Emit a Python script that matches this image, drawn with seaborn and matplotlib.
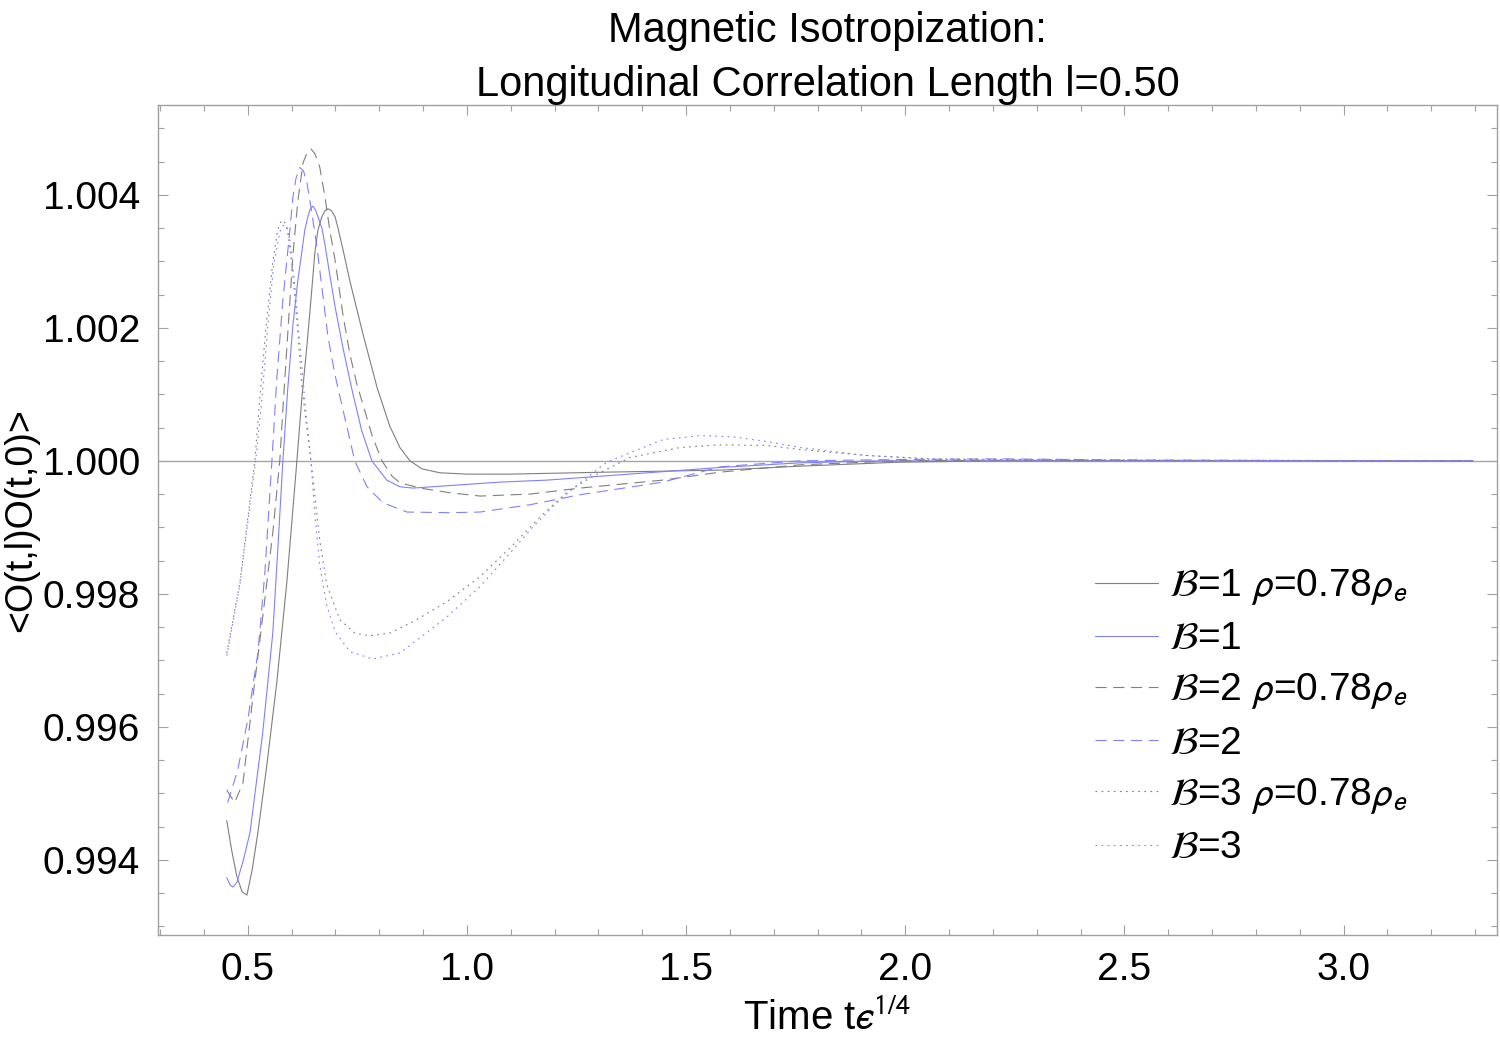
#!/usr/bin/env python3
"""
Magnetic isotropization: longitudinal correlation <O(t,l)O(t,0)> vs time, l=0.50
"""
import matplotlib
matplotlib.use("Agg")
import matplotlib.pyplot as plt
from matplotlib.ticker import MultipleLocator
import seaborn as sns

sns.set_style("ticks")
plt.rcParams['font.family'] = ['Liberation Sans', 'DejaVu Sans']
plt.rcParams['mathtext.fontset'] = 'stixsans'
plt.rcParams['text.color'] = 'black'
plt.rcParams['axes.labelcolor'] = 'black'

# B=1, rho=0.78 rho_e  (gray solid)
x_b1_rho = [0.452, 0.463, 0.475, 0.487, 0.498, 0.510, 0.523, 0.543, 0.566, 0.589,
            0.612, 0.623, 0.635, 0.644, 0.653, 0.660, 0.669, 0.676, 0.683, 0.691,
            0.699, 0.705, 0.717, 0.733, 0.763, 0.795, 0.824, 0.847, 0.870, 0.897,
            0.938, 1.0, 1.098, 1.320, 1.578, 1.760, 1.989, 2.217, 3.295]
y_b1_rho = [0.99459, 0.99415, 0.99375, 0.99352, 0.99347, 0.99385, 0.99441, 0.99540, 0.99666, 0.99817,
            1.0, 1.00092, 1.00174, 1.00242, 1.00313, 1.00347, 1.00367, 1.00376, 1.00379, 1.00376,
            1.00367, 1.00352, 1.00318, 1.00270, 1.00190, 1.00110, 1.00052, 1.00020, 1.0, 0.99988,
            0.99982, 0.99980, 0.99980, 0.99983, 0.99986, 0.99992, 0.99998, 1.0, 1.0]

# B=1  (blue solid)
x_b1 = [0.452, 0.460, 0.466, 0.475, 0.490, 0.505, 0.534, 0.557, 0.568, 0.580,
        0.591, 0.603, 0.614, 0.623, 0.630, 0.637, 0.642, 0.648, 0.654, 0.660,
        0.669, 0.676, 0.687, 0.699, 0.717, 0.740, 0.760, 0.783, 0.817, 0.847,
        0.877, 1.075, 1.183, 1.578, 1.760, 1.943, 3.295]
y_b1 = [0.99373, 0.99362, 0.99359, 0.99366, 0.99400, 0.99441, 0.99591, 0.99741, 0.99862, 1.0,
        1.00107, 1.00205, 1.00270, 1.00313, 1.00347, 1.00367, 1.00378, 1.00383, 1.00378, 1.00367,
        1.00350, 1.00325, 1.00280, 1.00232, 1.00170, 1.00100, 1.00045, 1.0, 0.99971, 0.99961,
        0.99959, 0.99968, 0.99971, 0.99990, 0.99997, 1.0, 1.0]

# B=2, rho=0.78 rho_e  (gray dashed)
x_b2_rho = [0.452, 0.470, 0.489, 0.511, 0.534, 0.557, 0.573, 0.580, 0.592, 0.603,
            0.614, 0.626, 0.635, 0.644, 0.653, 0.664, 0.676, 0.687, 0.699, 0.717,
            0.733, 0.749, 0.765, 0.783, 0.806, 0.829, 0.847, 0.893, 0.961, 1.030,
            1.144, 1.258, 1.447, 1.578, 1.760, 1.989, 2.217, 3.295]
y_b2_rho = [0.99505, 0.99486, 0.99516, 0.99641, 0.99765, 0.99892, 1.0, 1.00077, 1.00200, 1.00310,
            1.00390, 1.00448, 1.00463, 1.00469, 1.00462, 1.00442, 1.00397, 1.00347, 1.00302, 1.00220,
            1.00160, 1.00115, 1.00080, 1.00039, 1.0, 0.99977, 0.99967, 0.99959, 0.99952, 0.99947,
            0.99950, 0.99959, 0.99971, 0.99983, 0.99994, 1.0, 1.00001, 1.0]

# B=2  (blue dashed)
x_b2 = [0.454, 0.477, 0.500, 0.523, 0.539, 0.555, 0.566, 0.580, 0.596, 0.603,
        0.610, 0.619, 0.627, 0.635, 0.646, 0.658, 0.671, 0.683, 0.699, 0.717,
        0.744, 0.772, 0.808, 0.863, 0.961, 1.030, 1.144, 1.258, 1.447, 1.578,
        1.760, 1.989, 2.217, 2.559, 3.295]
y_b2 = [0.99486, 0.99535, 0.99611, 0.99711, 0.99832, 1.0, 1.00122, 1.00242, 1.00347, 1.00397,
        1.00425, 1.00441, 1.00436, 1.00418, 1.00373, 1.00320, 1.00250, 1.00186, 1.00129, 1.00077,
        1.0, 0.99961, 0.99937, 0.99923, 0.99922, 0.99923, 0.99934, 0.99949, 0.99968, 0.99991,
        1.0, 1.00002, 1.00003, 1.00001, 1.0]

# B=3, rho=0.78 rho_e  (gray dotted)
x_b3_rho = [0.452, 0.482, 0.505, 0.516, 0.527, 0.543, 0.557, 0.568, 0.574, 0.580,
            0.586, 0.591, 0.600, 0.612, 0.623, 0.635, 0.644, 0.653, 0.664, 0.680,
            0.710, 0.744, 0.779, 0.824, 0.877, 0.954, 1.030, 1.106, 1.167, 1.228,
            1.288, 1.372, 1.486, 1.578, 1.685, 1.760, 1.913, 2.064, 2.445, 3.295]
y_b3_rho = [0.99711, 0.99817, 0.99941, 1.0, 1.00092, 1.00212, 1.00299, 1.00347, 1.00358, 1.00362,
            1.00357, 1.00344, 1.00299, 1.00212, 1.00114, 1.00047, 1.0, 0.99949, 0.99881, 0.99814,
            0.99761, 0.99741, 0.99737, 0.99741, 0.99758, 0.99788, 0.99826, 0.99874, 0.99916, 0.99953,
            0.99977, 1.00005, 1.00020, 1.00024, 1.00023, 1.00017, 1.00008, 1.00003, 1.00001, 1.0]

# B=3  (blue dotted)
x_b3 = [0.452, 0.482, 0.505, 0.518, 0.532, 0.546, 0.559, 0.573, 0.579, 0.584,
        0.590, 0.596, 0.607, 0.619, 0.632, 0.644, 0.653, 0.664, 0.680, 0.699,
        0.733, 0.785, 0.847, 0.877, 0.954, 1.030, 1.091, 1.151, 1.205, 1.258,
        1.319, 1.379, 1.448, 1.532, 1.607, 1.685, 1.760, 1.836, 1.913, 2.064,
        2.445, 3.295]
y_b3 = [0.99707, 0.99814, 0.99934, 1.0, 1.00092, 1.00205, 1.00295, 1.00344, 1.00353, 1.00355,
        1.00350, 1.00332, 1.00265, 1.00174, 1.00077, 1.0, 0.99919, 0.99844, 0.99783, 0.99743,
        0.99713, 0.99702, 0.99711, 0.99726, 0.99765, 0.99811, 0.99856, 0.99901, 0.99937, 0.99967,
        0.99998, 1.00014, 1.00032, 1.00038, 1.00036, 1.00029, 1.00020, 1.00014, 1.00008, 1.00002,
        1.00001, 1.0]

labels = [r"$\mathcal{B}$=1 $\rho$=0.78$\rho_e$", r"$\mathcal{B}$=1",
          r"$\mathcal{B}$=2 $\rho$=0.78$\rho_e$", r"$\mathcal{B}$=2",
          r"$\mathcal{B}$=3 $\rho$=0.78$\rho_e$", r"$\mathcal{B}$=3"]

gray = '#7f7f7f'
blue = '#8080ff'
series = [
    (x_b1_rho, y_b1_rho, gray, '-'),
    (x_b1, y_b1, blue, '-'),
    (x_b2_rho, y_b2_rho, gray, (0, (10, 6))),
    (x_b2, y_b2, blue, (0, (10, 6))),
    (x_b3_rho, y_b3_rho, gray, (0, (1.5, 4))),
    (x_b3, y_b3, blue, (0, (1.5, 4))),
]

fig = plt.figure(figsize=(15, 10.42), dpi=100)
ax = fig.add_axes([0.1053, 0.1027, 0.8927, 0.7965])

ax.axhline(1.0, color='#a6a6a6', lw=1.0, zorder=1)
for (xs, ys, col, ls), lab in zip(series, labels):
    sns.lineplot(x=xs, y=ys, ax=ax, color=col, linestyle=ls, linewidth=0.8,
                 label=lab, zorder=2)

ax.set_xlim(0.295, 3.35)
ax.set_ylim(0.99287, 1.00535)
ax.xaxis.set_major_locator(MultipleLocator(0.5))
ax.xaxis.set_minor_locator(MultipleLocator(0.1))
ax.yaxis.set_major_locator(MultipleLocator(0.002))
ax.yaxis.set_minor_locator(MultipleLocator(0.0005))
ax.yaxis.set_major_formatter(plt.FuncFormatter(lambda v, p: f"{v:.3f}"))
ax.xaxis.set_major_formatter(plt.FuncFormatter(lambda v, p: f"{v:.1f}"))

frame = '#a0a0a0'
for s in ax.spines.values():
    s.set_color(frame)
    s.set_linewidth(1.0)
ax.tick_params(which='both', direction='in', top=True, right=True, color=frame,
               labelsize=28, labelcolor='black')
ax.tick_params(which='major', length=7, width=0.8)
ax.tick_params(which='minor', length=4, width=0.8)
ax.tick_params(axis='x', pad=12)
ax.tick_params(axis='y', pad=13)

ax.set_xlabel("Time t$\u03f5^{1/4}$", fontsize=29, labelpad=8)
ax.set_ylabel("<O(t,l)O(t,0)>", fontsize=27)
ax.yaxis.set_label_coords(-0.089, 0.5)
ax.set_title("Magnetic Isotropization:\nLongitudinal Correlation Length l=0.50",
             fontsize=30, pad=4, linespacing=1.45, color='black')

ax.legend(loc='upper left', bbox_to_anchor=(0.70, 0.443), frameon=False,
          fontsize=28, handlelength=1.6, handletextpad=0.3, labelspacing=0.37,
          borderaxespad=0, borderpad=0)

plt.savefig('out.png', dpi=100)
